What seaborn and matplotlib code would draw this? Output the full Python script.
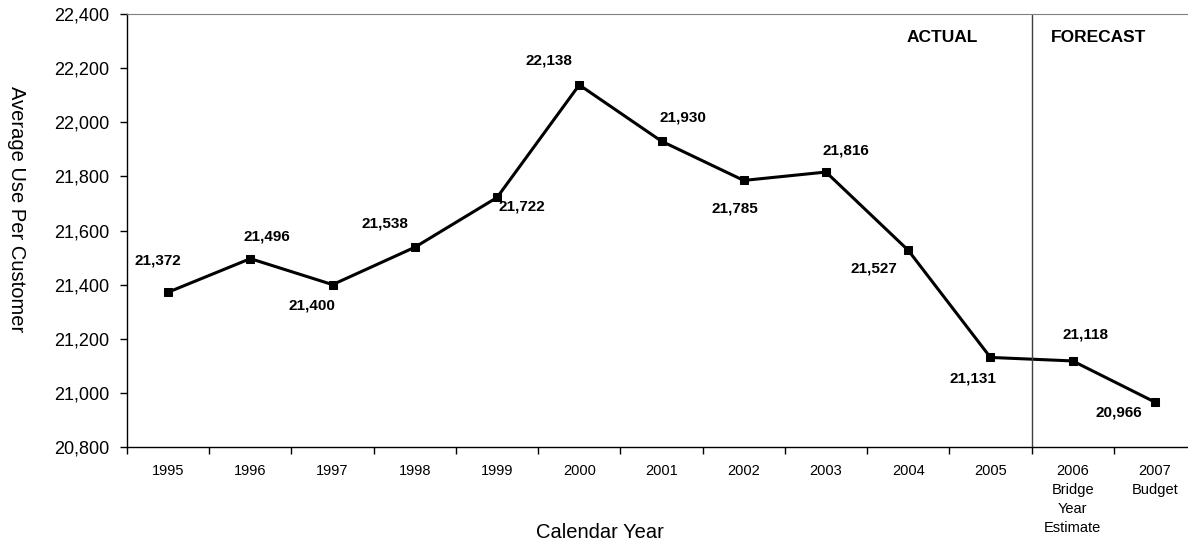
import numpy as np
import pandas as pd
import matplotlib
matplotlib.use("Agg")
import matplotlib.pyplot as plt
import seaborn as sns
from matplotlib.ticker import FuncFormatter

# data
years = ['1995', '1996', '1997', '1998', '1999', '2000', '2001', '2002',
         '2003', '2004', '2005', '2006\nBridge\nYear\nEstimate', '2007\nBudget']
use_per_customer = [21372, 21496, 21400, 21538, 21722, 22138, 21930, 21785,
                    21816, 21527, 21131, 21118, 20966]

# label offsets in pixels (dx right, dy up) from each marker
label_offsets = [(-10, 32), (17, 22), (-21, -21), (-30, 24), (25, -9), (-30, 24),
                 (21, 24), (-9, -28), (20, 22), (-34, -18), (-17, -21),
                 (13, 26), (-36, -10)]

df = pd.DataFrame({'pos': np.arange(len(years)), 'value': use_per_customer})

sns.set_style('white')
plt.rcParams['font.family'] = ['Liberation Sans', 'DejaVu Sans']
plt.rcParams['text.color'] = 'black'
plt.rcParams['xtick.color'] = 'black'
plt.rcParams['ytick.color'] = 'black'

fig = plt.figure(figsize=(11.88, 5.44), dpi=100)
ax = fig.add_axes([127 / 1188, 97 / 544, 1069 / 1188, 433 / 544])

sns.lineplot(data=df, x='pos', y='value', ax=ax, color='black', linewidth=2.2,
             marker='s', markersize=6, markeredgecolor='black')

for x, y, (dx, dy) in zip(df['pos'], df['value'], label_offsets):
    ax.annotate(f'{y:,}', (x, y), xytext=(dx * 0.72, dy * 0.72),
                textcoords='offset points', ha='center', va='center',
                fontsize=11, fontweight='bold')

ax.set_xlim(-0.5, len(years) - 0.5)
ax.set_ylim(20800, 22400)
ax.set_yticks(np.arange(20800, 22401, 200))
ax.yaxis.set_major_formatter(FuncFormatter(lambda v, p: f'{v:,.0f}'))

ax.set_xticks(df['pos'])
ax.set_xticklabels(years, fontsize=10.5, linespacing=1.45)
ax.set_xticks(np.arange(-0.5, len(years), 1), minor=True)
ax.tick_params(axis='x', which='major', length=0, pad=12)
ax.tick_params(axis='x', which='minor', length=5, width=1, color='black', direction='out')
ax.tick_params(axis='y', length=5, width=1, color='black', direction='out', labelsize=13, pad=8)
ax.tick_params(axis='both', which='both', bottom=True, left=True)

ax.axvline(10.5, color='#404040', linewidth=1)
ax.text(9.41, 22315, 'ACTUAL', ha='center', va='center', fontsize=12.5, fontweight='bold')
ax.text(11.31, 22315, 'FORECAST', ha='center', va='center', fontsize=12.5, fontweight='bold')

for side in ['left', 'bottom']:
    ax.spines[side].set_color('black')
    ax.spines[side].set_linewidth(1)
ax.spines['top'].set_color('#808080')
ax.spines['right'].set_visible(False)

ax.set_xlabel('')
ax.set_ylabel('')
fig.text(600 / 1188, 1 - 532 / 544, 'Calendar Year', ha='center', va='center', fontsize=14.5)
fig.text(16 / 1188, 1 - 209 / 544, 'Average Use Per Customer', ha='center', va='center',
         fontsize=14.5, rotation=-90)

fig.savefig('out.png', dpi=100)
